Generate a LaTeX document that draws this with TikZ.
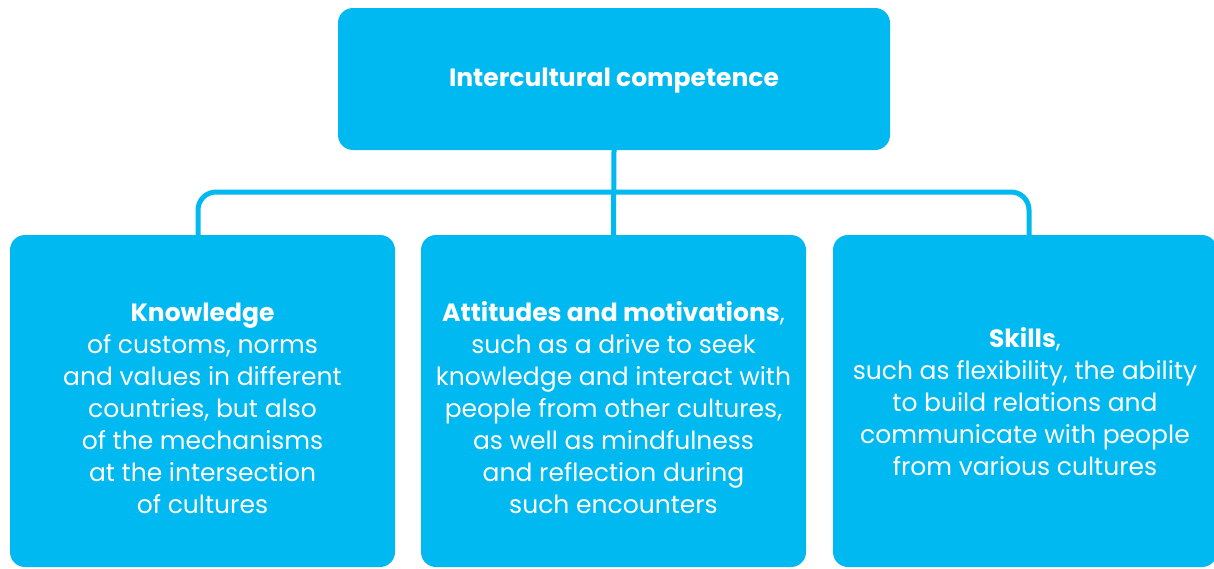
\documentclass[tikz,border=0pt]{standalone}
\usepackage{fontspec}
\setmainfont{Poppins}
\definecolor{sky}{RGB}{0,185,241}
\begin{document}
\begin{tikzpicture}[x=1pt,y=-1pt,
  box/.style={fill=sky, rounded corners=15pt, inner sep=0pt},
  label text/.style={text=white, align=center, inner sep=0pt,
    font=\fontsize{25}{32}\selectfont},
  conn/.style={draw=sky, line width=5pt, rounded corners=18pt}]
  \useasboundingbox (0,0) rectangle (1214,568);
  \clip (0,0) rectangle (1214,568);

  % top heading box
  \node[box, minimum width=552pt, minimum height=142pt] (top) at (614,79) {};
  \node[label text] (topt) at ([yshift=-2pt]top.center) {\textbf{Intercultural competence}};

  % three child boxes
  \node[box, minimum width=385pt, minimum height=332pt] (kn) at (202.5,401) {};
  \node[box, minimum width=385pt, minimum height=332pt] (at) at (613.5,401) {};
  \node[box, minimum width=384pt, minimum height=332pt] (sk) at (1025,401) {};

  \node[label text] (knt) at ([yshift=-7pt]kn.center)
    {\textbf{Knowledge}\\of customs, norms\\and values in different\\countries, but also\\of the mechanisms\\at the intersection\\of cultures};
  \node[label text] (att) at ([yshift=-7pt]at.center)
    {\textbf{Attitudes and motivations},\\such as a drive to seek\\knowledge and interact with\\people from other cultures,\\as well as mindfulness\\and reflection during\\such encounters};
  \node[label text] (skt) at ([yshift=-1pt]sk.center)
    {\textbf{Skills},\\such as flexibility, the ability\\to build relations and\\communicate with people\\from various cultures};

  % connectors
  \coordinate (bl) at (198,192);
  \coordinate (br) at (1029,192);
  \draw[conn] (bl |- kn.north) -- (bl) -- (br) -- (br |- sk.north);
  \draw[conn] (top.south) -- (at.north);
\end{tikzpicture}
\end{document}
